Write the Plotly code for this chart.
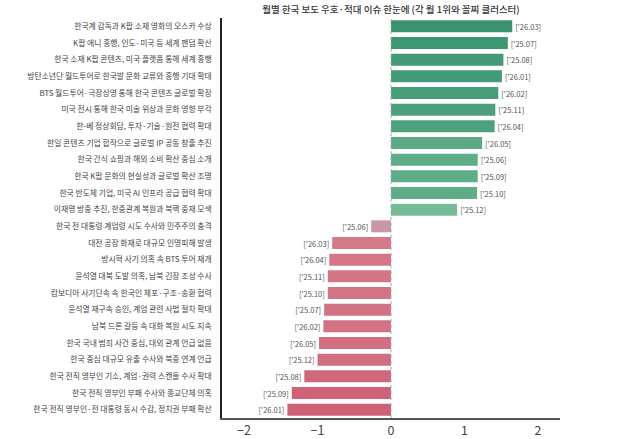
import plotly.graph_objects as go

labels = [
    "한국계 감독과 K팝 소재 영화의 오스카 수상",
    "K팝 애니 흥행, 인도·미국 등 세계 팬덤 확산",
    "한국 소재 K팝 콘텐츠, 미국 플랫폼 통해 세계 흥행",
    "방탄소년단 월드투어로 한국발 문화 교류와 흥행 기대 확대",
    "BTS 월드투어·극장상영 통해 한국 콘텐츠 글로벌 확장",
    "미국 전시 통해 한국 미술 위상과 문화 영향 부각",
    "한-베 정상회담, 투자·기술·원전 협력 확대",
    "한일 콘텐츠 기업 합작으로 글로벌 IP 공동 창출 추진",
    "한국 간식 쇼핑과 해외 소비 확산 중심 소개",
    "한국 K팝 문화의 현실성과 글로벌 확산 조명",
    "한국 반도체 기업, 미국 AI 인프라 공급 협력 확대",
    "이재명 방중 추진, 한중관계 복원과 북핵 중재 모색",
    "한국 전 대통령 계엄령 시도 수사와 민주주의 충격",
    "대전 공장 화재로 대규모 인명피해 발생",
    "방시혁 사기 의혹 속 BTS 투어 재개",
    "윤석열 대북 도발 의혹, 남북 긴장 조성 수사",
    "캄보디아 사기단속 속 한국인 체포·구조·송환 협력",
    "윤석열 재구속 승인, 계엄 관련 사법 절차 확대",
    "남북 드론 갈등 속 대화 복원 시도 지속",
    "한국 국내 범죄 사건 중심, 대외 관계 언급 없음",
    "한국 중심 대규모 유출 수사와 북중 연계 언급",
    "한국 전직 영부인 기소, 계엄·권력 스캔들 수사 확대",
    "한국 전직 영부인 부패 수사와 종교단체 의혹",
    "한국 전직 영부인·전 대통령 동시 수감, 정치권 부패 확산",
]
values = [1.65, 1.59, 1.53, 1.51, 1.46, 1.42, 1.41, 1.24, 1.18, 1.18, 1.17, 0.90,
          -0.27, -0.80, -0.84, -0.86, -0.86, -0.91, -0.92, -0.98, -1.00, -1.18, -1.35, -1.41]
months = ["'26.03", "'25.07", "'25.08", "'26.01", "'26.02", "'25.11", "'26.04", "'26.05",
          "'25.06", "'25.09", "'25.10", "'25.12", "'25.06", "'26.03", "'26.04", "'25.11",
          "'25.10", "'25.07", "'26.02", "'26.05", "'25.12", "'25.08", "'25.09", "'26.01"]
x_ticks = [-2, -1, 0, 1, 2]

colorscale = [
    [0.0, "#cc5a6c"],
    [0.2, "#d26e80"],
    [0.35, "#d98896"],
    [0.42, "#c898a6"],
    [0.5, "#b8a8b4"],
    [0.55, "#9cc4b0"],
    [0.75, "#7ec09e"],
    [0.85, "#5fae88"],
    [1.0, "#3a9470"],
]

fig = go.Figure(go.Bar(
    x=values,
    y=labels,
    orientation="h",
    marker=dict(color=values, colorscale=colorscale, cmin=-1.65, cmax=1.65, line=dict(width=0)),
    text=["[" + m + "]" for m in months],
    textposition="outside",
    textfont=dict(size=7.5, color="#555555", family="Noto Sans CJK KR"),
    cliponaxis=False,
    hoverinfo="skip",
))

fig.add_shape(type="line", xref="x", yref="paper", x0=0, x1=0, y0=0, y1=1,
              line=dict(color="#aaaaaa", width=1, dash="dot"), layer="above")

fig.update_layout(
    width=628, height=439,
    margin=dict(l=222, r=68, t=18, b=21),
    paper_bgcolor="white", plot_bgcolor="white",
    bargap=0.28,
    showlegend=False,
    font=dict(family="Noto Sans CJK KR", color="#444444"),
    title=dict(text="월별 한국 보도 우호·적대 이슈 한눈에 (각 월 1위와 꼴찌 클러스터)",
               x=0.5, xref="paper", xanchor="center",
               y=1 - 10 / 439, yref="container", yanchor="middle",
               font=dict(size=9.5, color="#333333", family="Noto Sans CJK KR", weight=500)),
    xaxis=dict(range=[-2.3, 2.3], tickvals=x_ticks, showgrid=False, zeroline=False,
               showline=True, linecolor="#555555", linewidth=1.5, automargin=False,
               tickfont=dict(size=12.5, color="#444444"), ticks=""),
    yaxis=dict(autorange="reversed", showgrid=False, zeroline=False, automargin=False,
               showline=True, linecolor="#222222", linewidth=1.5,
               tickfont=dict(size=7.8, color="#444444"), ticks="",
               ticklabelstandoff=7),
)

fig.write_html("out.html")
